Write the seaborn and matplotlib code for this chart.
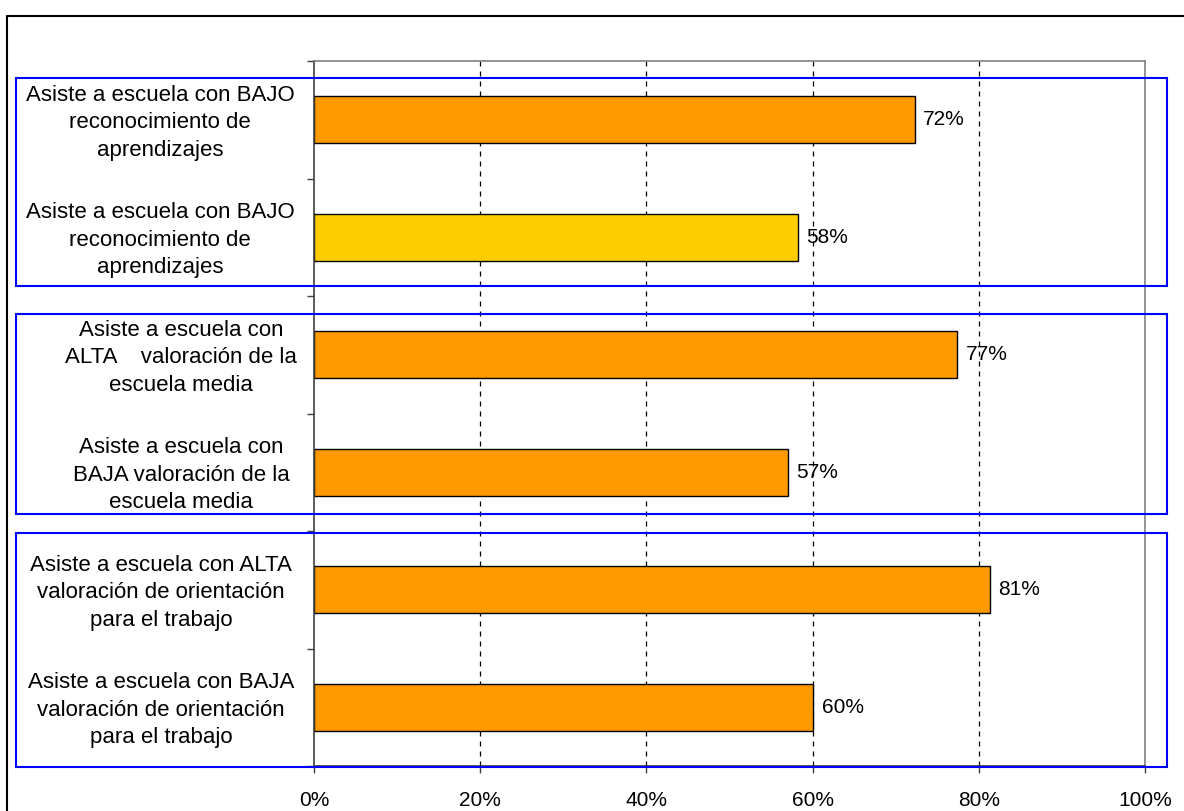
import matplotlib
matplotlib.use("Agg")
import matplotlib.pyplot as plt
import matplotlib.transforms as mtransforms
from matplotlib.patches import Rectangle
from matplotlib.lines import Line2D
import seaborn as sns
import pandas as pd

# ---------------- data ----------------
categories = [
    "Asiste a escuela con BAJO\nreconocimiento de\naprendizajes",
    "Asiste a escuela con BAJO\nreconocimiento de\naprendizajes",
    "Asiste a escuela con\nALTA    valoración de la\nescuela media",
    "Asiste a escuela con\nBAJA valoración de la\nescuela media",
    "Asiste a escuela con ALTA\nvaloración de orientación\npara el trabajo",
    "Asiste a escuela con BAJA\nvaloración de orientación\npara el trabajo",
]
values = [72.3, 58.2, 77.4, 57.0, 81.3, 60.1]
bar_colors = ["#FF9900", "#FFCC00", "#FF9900", "#FF9900", "#FF9900", "#FF9900"]
x_ticks = [0, 20, 40, 60, 80, 100]
x_tick_labels = ["0%", "20%", "40%", "60%", "80%", "100%"]

# ---------------- layout constants (pixels of the 1184x811 figure) ----------------
W, H = 1184, 811
label_center_px = [160, 160, 181, 181, 161, 161]
# blue frames: (top px, bottom px)
frames_px = [(78, 286), (314, 514), (533, 767)]
frame_left_px, frame_right_px = 16, 1167

# ---------------- style ----------------
sns.set_theme(style="white")
plt.rcParams["font.family"] = ["Liberation Sans", "DejaVu Sans"]
FS_LABEL = 16
FS = 15

ids = [f"c{i}" for i in range(len(categories))]
df = pd.DataFrame({"id": ids, "value": values})

fig = plt.figure(figsize=(W / 100, H / 100), dpi=100)
ax_top_px, ax_bot_px = 61, 766
ax = fig.add_axes([314 / W, 1 - ax_bot_px / H, (1145 - 314) / W, (ax_bot_px - ax_top_px) / H])

sns.barplot(data=df, y="id", x="value", hue="id", palette=bar_colors,
            orient="h", width=0.4, edgecolor="black", linewidth=1.0,
            saturation=1, legend=False, ax=ax, dodge=False)

n = len(categories)
ax.set_xlim(0, 100)
ax.set_ylim(n - 0.5, -0.5)
ax.set_xlabel("")
ax.set_ylabel("")

# dashed gridlines
for xt in x_ticks[1:-1]:
    ax.axvline(xt, color="black", lw=0.9, ls=(0, (4, 4)), zorder=0.5)

# x ticks
ax.set_xticks(x_ticks)
ax.set_xticklabels(x_tick_labels, fontsize=FS, color="black")
ax.tick_params(axis="x", direction="out", length=5, width=1, color="#404040",
               pad=13, bottom=True)

# y: category labels drawn as text, tick marks at boundaries
ax.set_yticks(range(n))
ax.set_yticklabels([""] * n)
ax.tick_params(axis="y", which="major", length=0)
ax.set_yticks([i - 0.5 for i in range(n + 1)], minor=True)
ax.tick_params(axis="y", which="minor", direction="out", length=5, width=1,
               color="#404040", left=True)

lab_trans = mtransforms.blended_transform_factory(fig.transFigure, ax.transData) + \
    mtransforms.ScaledTranslation(0, -3 / 100, fig.dpi_scale_trans)
for i, lab in enumerate(categories):
    ax.text(label_center_px[i] / W, i, lab, transform=lab_trans, ha="center",
            va="center", multialignment="center", fontsize=FS_LABEL,
            linespacing=1.4, color="black", clip_on=False)

for sp in ["left", "bottom"]:
    ax.spines[sp].set_color("#404040")
    ax.spines[sp].set_linewidth(1.2)
for sp in ["top", "right"]:
    ax.spines[sp].set_color("#808080")
    ax.spines[sp].set_linewidth(1.2)

# value labels
for i, v in enumerate(values):
    ax.annotate(f"{round(v)}%", xy=(v, i), xytext=(6, 0), textcoords="offset points",
                va="center", ha="left", fontsize=FS, color="black")

# blue grouping frames
for (t, b) in frames_px:
    rect = Rectangle((frame_left_px / W, 1 - b / H), (frame_right_px - frame_left_px) / W,
                     (b - t) / H, transform=fig.transFigure, fill=False,
                     edgecolor="#0000FF", linewidth=1.5, clip_on=False, zorder=5)
    fig.add_artist(rect)

# outer chart border (top and left visible; rest cropped)
fig.add_artist(Line2D([7 / W, 1.0], [1 - 16 / H, 1 - 16 / H],
                      transform=fig.transFigure, color="black", lw=1.5))
fig.add_artist(Line2D([7 / W, 7 / W], [0, 1 - 16 / H],
                      transform=fig.transFigure, color="black", lw=1.5))

fig.savefig("out.png", dpi=100, facecolor="white")
